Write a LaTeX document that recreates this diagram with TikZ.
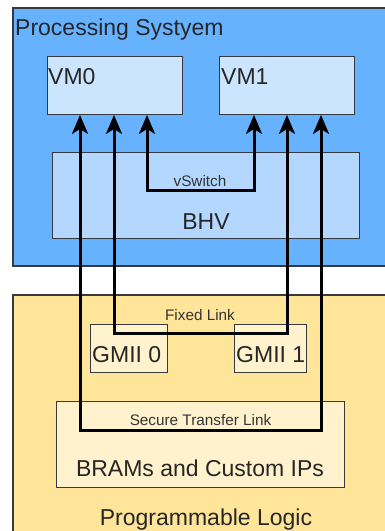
\documentclass[tikz,border=0pt]{standalone}
\usepackage{fontspec}
\setmainfont{Liberation Sans}
\usetikzlibrary{arrows.meta}
\definecolor{psfill}{HTML}{66B2FF}
\definecolor{vmfill}{HTML}{CCE5FF}
\definecolor{bhvfill}{HTML}{B3D7FF}
\definecolor{plfill}{HTML}{FFE599}
\definecolor{gmfill}{HTML}{FFF2CC}
\definecolor{edge}{HTML}{36393D}
\tikzset{
  outer/.style={draw=edge, line width=1.6pt},
  inner/.style={draw=edge, line width=0.9pt},
  big/.style={font=\fontsize{23}{27}\selectfont, inner sep=0pt, text=black!85},
  small/.style={font=\fontsize{15.3}{18}\selectfont, inner sep=0pt, text=black!80},
  link/.style={line width=3pt, {Stealth[length=19pt,width=16pt,inset=5pt]}-{Stealth[length=19pt,width=16pt,inset=5pt]}},
}
\begin{document}
\begin{tikzpicture}[x=1pt,y=-1pt]
\useasboundingbox (0,0) rectangle (385,531);
% Processing system
\draw[outer, fill=psfill] (13,8) rectangle (400,266);
\node[big, anchor=base west] (pstext) at (15,35.5) {Processing Systyem};
\node[inner, fill=vmfill, minimum width=135pt, minimum height=58pt, anchor=north west] (vm0) at (47,56) {};
\node[inner, fill=vmfill, minimum width=135pt, minimum height=58pt, anchor=north west] (vm1) at (219,56) {};
\node[big, anchor=base west] (vm0t) at (48,84) {VM0};
\node[big, anchor=base west] (vm1t) at (221,84) {VM1};
\node[inner, fill=bhvfill, minimum width=307pt, minimum height=86pt, anchor=north west] (bhv) at (52,152) {};
\node[big, anchor=base] (bhvt) at (206,229) {BHV};
% Programmable logic
\draw[outer, fill=plfill] (13,295) rectangle (400,560);
\node[inner, fill=gmfill, minimum width=77pt, minimum height=48pt, anchor=north west] (gm0) at (90,324) {};
\node[inner, fill=gmfill, minimum width=72pt, minimum height=48pt, anchor=north west] (gm1) at (234,324) {};
\node[big, anchor=base west] (gm0t) at (92,362.7) {GMII 0};
\node[big, anchor=base west] (gm1t) at (236,362.7) {GMII 1};
\node[inner, fill=gmfill, minimum width=288pt, minimum height=86pt, anchor=north west] (bram) at (56,401) {};
\node[big, anchor=base] (bramt) at (200,476.7) {BRAMs and Custom IPs};
\node[big, anchor=base] (plt) at (206,525) {Programmable Logic};
% link labels
\node[small, anchor=base] (vsw) at (200,186) {vSwitch};
\node[small, anchor=base] (fix) at (200,320) {Fixed Link};
\node[small, anchor=base] (sec) at (200.5,425.7) {Secure Transfer Link};
% links
\draw[link] (vm0.south -| 147,0) -- (147,190) -- (254,190) -- (vm1.south -| 254,0);
\draw[link] (vm0.south -| 114,0) -- (114,333) -- (287,333) -- (vm1.south -| 287,0);
\draw[link] (vm0.south -| 80,0) -- (80,430) -- (321,430) -- (vm1.south -| 321,0);
\end{tikzpicture}
\end{document}
